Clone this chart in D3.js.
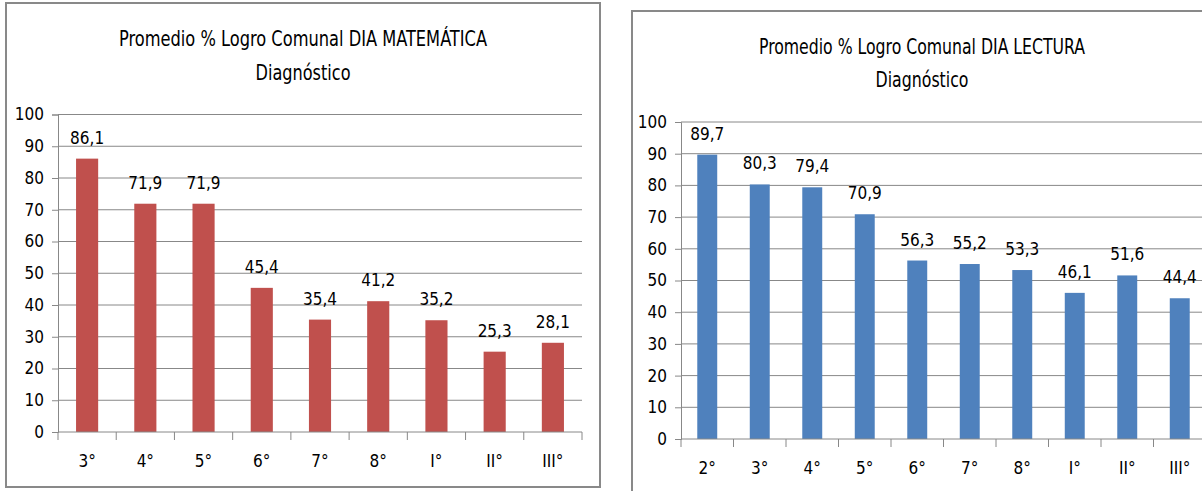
<!DOCTYPE html>
<html>
<head>
<meta charset="utf-8">
<script src="https://cdn.jsdelivr.net/npm/d3@7"></script>
<style>
  body { margin: 0; background: #fff; }
  svg { display: block; }
  text { font-family: "Liberation Sans Narrow", "DejaVu Sans Condensed", "Liberation Sans", sans-serif; fill: #000; }
</style>
</head>
<body>
<svg id="chart" width="1202" height="491"></svg>
<script>
// data
var mathTitle = ["Promedio % Logro Comunal DIA MATEMÁTICA", "Diagnóstico"];
var mathCategories = ["3°", "4°", "5°", "6°", "7°", "8°", "I°", "II°", "III°"];
var mathValues = [86.1, 71.9, 71.9, 45.4, 35.4, 41.2, 35.2, 25.3, 28.1];

var readTitle = ["Promedio % Logro Comunal DIA LECTURA", "Diagnóstico"];
var readCategories = ["2°", "3°", "4°", "5°", "6°", "7°", "8°", "I°", "II°", "III°"];
var readValues = [89.7, 80.3, 79.4, 70.9, 56.3, 55.2, 53.3, 46.1, 51.6, 44.4];

var yTicks = [0, 10, 20, 30, 40, 50, 60, 70, 80, 90, 100];

var svg = d3.select("#chart");
var comma = d3.formatLocale({decimal: ",", thousands: ".", grouping: [3], currency: ["", ""]}).format(".1f");

function drawChart(opt) {
  var g = svg.append("g");

  //chart frame
  g.append("rect")
    .attr("x", opt.box[0]).attr("y", opt.box[1])
    .attr("width", opt.box[2]).attr("height", opt.box[3])
    .attr("fill", "#fff").attr("stroke", "#898989").attr("stroke-width", 2);

  //title, two lines
  opt.title.forEach(function(t, i) {
    g.append("text")
      .attr("x", opt.titleX).attr("y", opt.titleY[i])
      .attr("text-anchor", "middle")
      .attr("font-size", 22)
      .attr("textLength", opt.titleW[i])
      .attr("lengthAdjust", "spacingAndGlyphs")
      .text(t);
  });

  var x = d3.scaleBand()
    .domain(opt.categories)
    .range([opt.left, opt.right])
    .paddingInner(0.62).paddingOuter(0.31);

  var y = d3.scaleLinear().domain([0, 100]).range([opt.bottom, opt.top]);

  //gridlines
  g.append("g").selectAll("line")
    .data(yTicks.filter(function(d){ return d > 0; }))
    .enter().append("line")
    .attr("x1", opt.left).attr("x2", opt.right)
    .attr("y1", function(d){ return y(d); }).attr("y2", function(d){ return y(d); })
    .attr("stroke", "#888").attr("stroke-width", 1);

  //y axis
  var yAxis = g.append("g")
    .attr("transform", "translate(" + opt.left + ",0)")
    .call(d3.axisLeft(y).tickValues(yTicks).tickSize(6).tickPadding(8));
  yAxis.select(".domain").attr("stroke", "#888");
  yAxis.selectAll(".tick line").attr("stroke", "#888");
  yAxis.selectAll("text").attr("font-size", 17).attr("font-family", null);

  //bars
  g.append("g").selectAll("rect")
    .data(opt.values)
    .enter().append("rect")
    .attr("x", function(d, i){ return x(opt.categories[i]); })
    .attr("width", x.bandwidth())
    .attr("y", function(d){ return y(d); })
    .attr("height", function(d){ return y(0) - y(d); })
    .attr("fill", opt.color);

  //value labels
  g.append("g").selectAll("text")
    .data(opt.values)
    .enter().append("text")
    .attr("x", function(d, i){ return x(opt.categories[i]) + x.bandwidth() / 2; })
    .attr("y", function(d){ return y(d) - 15; })
    .attr("text-anchor", "middle")
    .attr("font-size", 17)
    .text(function(d){ return comma(d); });

  //x axis: baseline, boundary ticks, labels
  g.append("line")
    .attr("x1", opt.left).attr("x2", opt.right)
    .attr("y1", y(0)).attr("y2", y(0))
    .attr("stroke", "#888");

  var step = x.step();
  g.append("g").selectAll("line")
    .data(d3.range(opt.categories.length + 1))
    .enter().append("line")
    .attr("x1", function(i){ return opt.left + i * step; })
    .attr("x2", function(i){ return opt.left + i * step; })
    .attr("y1", y(0)).attr("y2", y(0) + 8)
    .attr("stroke", "#888");

  g.append("g").selectAll("text")
    .data(opt.categories)
    .enter().append("text")
    .attr("x", function(d){ return x(d) + x.bandwidth() / 2; })
    .attr("y", y(0) + 35)
    .attr("text-anchor", "middle")
    .attr("font-size", 17)
    .text(function(d){ return d; });
}

drawChart({
  box: [6, 3, 594, 484],
  title: mathTitle, titleX: 303, titleY: [46, 80], titleW: [368, 95],
  categories: mathCategories, values: mathValues, color: "#C0504D",
  left: 58, right: 582, top: 114.5, bottom: 432
});

drawChart({
  box: [632, 11, 590, 500],
  title: readTitle, titleX: 922, titleY: [54, 87], titleW: [326, 93],
  categories: readCategories, values: readValues, color: "#4F81BD",
  left: 681, right: 1206, top: 122, bottom: 439
});
</script>
</body>
</html>
